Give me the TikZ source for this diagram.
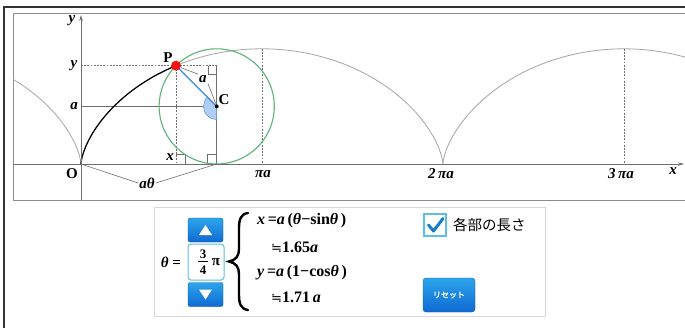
\documentclass[tikz,border=0pt]{standalone}
\usepackage{fontspec}
\setmainfont{Liberation Serif}
\newfontfamily\jp{Noto Sans CJK JP}
\newfontfamily\jpb[FakeBold=2]{Noto Sans CJK JP}
\newfontfamily\dvs{DejaVu Sans}
\usetikzlibrary{arrows.meta}
\definecolor{curvegray}{RGB}{165,165,165}
\definecolor{axisgray}{RGB}{110,110,110}
\definecolor{circgreen}{RGB}{95,180,115}
\definecolor{segblue}{RGB}{60,135,220}
\definecolor{sectfill}{RGB}{175,205,245}
\definecolor{dotred}{RGB}{240,20,20}
\definecolor{btntop}{RGB}{45,165,235}
\definecolor{btnbot}{RGB}{15,105,210}
\definecolor{boxcyan}{RGB}{90,190,230}
\definecolor{checkblue}{RGB}{25,125,205}
\definecolor{panelgray}{RGB}{215,215,215}
\begin{document}
\begin{tikzpicture}[x=1pt,y=1pt,
  lbl/.style={font=\fontsize{15}{15}\selectfont\bfseries\itshape, inner sep=0pt},
  lblup/.style={font=\fontsize{15}{15}\selectfont\bfseries, inner sep=0pt},
  frm/.style={font=\fontsize{16}{16}\selectfont\bfseries, inner sep=0pt, anchor=west},
  thin/.style={axisgray, line width=0.6pt},
  dsh/.style={axisgray, line width=0.6pt, dash pattern=on 1.8pt off 1.4pt},
  leader/.style={axisgray, line width=0.6pt},
  btn/.style={rounded corners=2pt, top color=btntop, bottom color=btnbot, draw=btnbot!80!black, line width=0.3pt, minimum width=35pt, minimum height=24pt, inner sep=0pt}]
\useasboundingbox (0,0) rectangle (685,-327);
\fill[white] (0,0) rectangle (685,-327);
% frames
\draw[black!80, line width=1.6pt] (4,-330) -- (4,-7) -- (690,-7);
\draw[black!45, line width=0.9pt] (690,-13) -- (13,-13) -- (13,-200) -- (690,-200);
% graph area
\begin{scope}
\clip (13,-13) rectangle (685,-200);
\begin{scope}[shift={(81,-164)}, x=57.6pt, y=57.6pt]
  \coordinate (O) at (0,0);
  \coordinate (P) at (1.6491,1.7071);
  \coordinate (C) at (2.3562,1);
  \coordinate (D) at (2.3562,0);
  \coordinate (Ya) at (0,1);
  \coordinate (Yp) at (0,1.7071);
  \coordinate (Xp) at (1.6491,0);
  \coordinate (Tp) at (2.3562,1.7071);
  \coordinate (Pi1) at (3.1416,2);
  \coordinate (Pi1b) at (3.1416,0);
  \coordinate (Pi3) at (9.4248,2);
  \coordinate (Pi3b) at (9.4248,0);
  \draw[curvegray, line width=0.8pt, domain=-2.4:0, samples=80, variable=\t] plot ({\t - sin(\t r)}, {1 - cos(\t r)});
  \draw[curvegray, line width=0.8pt, domain=0:6.2832, samples=200, variable=\t] plot ({\t - sin(\t r)}, {1 - cos(\t r)});
  \draw[curvegray, line width=0.8pt, domain=6.2832:10.3, samples=150, variable=\t] plot ({\t - sin(\t r)}, {1 - cos(\t r)});
  % guide lines
  \draw[dsh] (Yp) -- (Tp);
  \draw[dsh] (P) -- (Xp);
  \draw[dsh] (Pi1) -- (Pi1b);
  \draw[dsh] (Pi3) -- (Pi3b);
  \draw[thin] (Tp) -- (D);
  \draw[thin] (Ya) -- (C);
  % right angle marks
  \draw[thin] (Xp) ++(0,0.17) -- ++(0.17,0) -- ++(0,-0.17);
  \draw[thin] (D) ++(-0.17,0) -- ++(0,0.17) -- ++(0.17,0);
  \draw[thin] (Tp) ++(-0.15,0) -- ++(0,-0.15) -- ++(0.15,0);
  % circle
  \draw[circgreen, line width=1.1pt] (C) circle[radius=1];
  % angle sector
  \filldraw[fill=sectfill, draw=segblue, line width=0.4pt] (C) -- ++(135:0.23) arc[start angle=135, end angle=270, radius=0.23] -- cycle;
  % traced curve
  \draw[black, line width=1.2pt, domain=0:2.3562, samples=80, variable=\t] plot ({\t - sin(\t r)}, {1 - cos(\t r)});
  % radius PC
  \draw[segblue, line width=1.2pt] (P) -- (C);
  % labels with leaders
  \node[lbl] (alab) at (2.118,1.476) {a};
  \draw[leader] ([shift={(5pt,-2pt)}]P) -- ([shift={(-1pt,1pt)}]alab.north west);
  \draw[leader] ([shift={(1pt,-1pt)}]alab.south east) -- ([shift={(-1pt,3pt)}]C);
  \node[lbl] (atlab) at (1.146,-0.33) {aθ};
  \draw[leader] (O) -- ([xshift=-1pt]atlab.west);
  \draw[leader] ([xshift=1pt]atlab.east) -- (D);
  % dots
  \fill[black] (C) circle[radius=2pt];
  \fill[dotred] (P) circle[radius=5pt];
\end{scope}
\end{scope}
% axes
\coordinate (xs) at (13,-164);
\coordinate (xe) at (684,-164);
\coordinate (ys) at (81,-200);
\coordinate (ye) at (81,-15);
\draw[axisgray, line width=0.8pt, -{Stealth[length=6pt,width=3.5pt]}] (xs) -- (xe);
\draw[axisgray, line width=0.8pt, -{Stealth[length=6pt,width=3.5pt]}] (ys) -- (ye);
% axis labels
\node[lbl] (ly) at (72,-21) {y};
\node[lbl] (lyp) at (74,-66) {y};
\node[lbl] (la) at (74,-106) {a};
\node[lbl] (lx) at (170,-157) {x};
\node[lblup] (lO) at (72,-174) {O};
\node[lbl] (lpi) at (263,-174) {πa};
\node[lbl] (l2pi) at (441,-174) {2\,πa};
\node[lbl] (l3pi) at (621,-174) {3\,πa};
\node[lbl] (lxax) at (673,-171) {x};
\node[lblup] (lP) at (168,-58) {P};
\node[lblup] (lC) at (224,-100) {C};
% ---- control panel ----
\draw[panelgray, line width=0.8pt, fill=white] (154,-207) rectangle (545,-316);
\node[font=\fontsize{15}{15}\selectfont\bfseries, inner sep=0pt] (theq) at (171,-262) {\textit{θ} =};
\node[btn] (up) at (205.5,-230) {};
\fill[white] ([yshift=5pt]up.center) -- ++(-6.5pt,-10pt) -- ++(13pt,0) -- cycle;
\draw[boxcyan, line width=1pt, rounded corners=3pt, fill=white] (188,-244) rectangle (224,-280);
\node[font=\fontsize{13}{13}\selectfont\bfseries, inner sep=0pt] (num) at (203,-254) {3};
\node[font=\fontsize{13}{13}\selectfont\bfseries, inner sep=0pt] (den) at (203,-270.5) {4};
\draw[black, line width=0.8pt] ([yshift=-2.5pt,xshift=-5pt]num.south) -- ([yshift=-2.5pt,xshift=5pt]num.south);
\node[font=\fontsize{15}{15}\selectfont\bfseries, inner sep=0pt] (pi) at (216,-262) {π};
\node[btn] (down) at (205.5,-294.5) {};
\fill[white] ([yshift=-5pt]down.center) -- ++(-6.5pt,10pt) -- ++(13pt,0) -- cycle;
% brace
\draw[black, line width=2.4pt, line cap=round] (248,-213) .. controls (241,-214) and (239,-219) .. (239,-228) -- (239,-249) .. controls (239,-256) and (236,-260) .. (229,-261.5) .. controls (236,-263) and (239,-267) .. (239,-274) -- (239,-295) .. controls (239,-304) and (241,-309) .. (248,-310);
% formulas
\node[frm] (fx) at (257,-221) {\textit{x}\,=\textit{a}\,(\textit{θ}−sin\textit{θ}\,)};
\node[frm] (vx) at (271,-247) {{\dvs\mdseries\fontsize{13}{13}\selectfont ≒}1.65\textit{a}};
\node[frm] (fy) at (257,-273) {\textit{y}\,=\textit{a}\,(1−cos\textit{θ}\,)};
\node[frm] (vy) at (271,-297) {{\dvs\mdseries\fontsize{13}{13}\selectfont ≒}1.71\,\textit{a}};
% checkbox
\draw[boxcyan, line width=2pt, fill=white] (424,-214) rectangle (446,-236);
\draw[checkblue, line width=3pt, line cap=round, line join=round] (428.5,-225) -- (433.5,-231) -- (443,-218.5);
\node[font=\jp\fontsize{14.5}{14.5}\selectfont, inner sep=0pt, anchor=west] (chk) at (453,-225) {各部の長さ};
% reset button
\node[btn, minimum width=52pt, minimum height=34pt, rounded corners=3pt] (reset) at (449,-295) {};
\node[font=\jpb\fontsize{8}{8}\selectfont, text=white, inner sep=0pt] (resettxt) at (reset.center) {リセット};
\end{tikzpicture}
\end{document}
